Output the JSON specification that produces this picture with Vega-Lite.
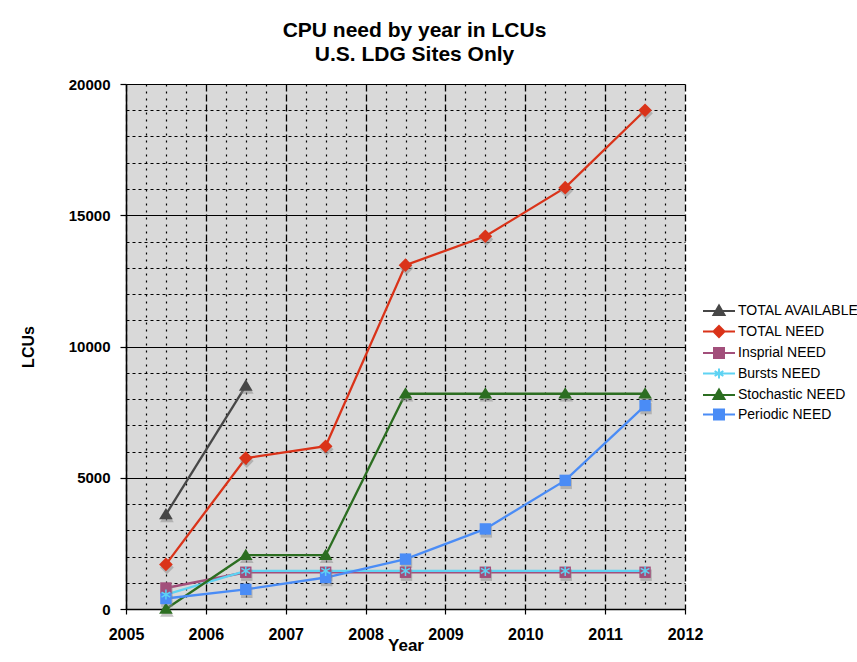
{
  "$schema": "https://vega.github.io/schema/vega-lite/v6.json",
  "width": 559,
  "height": 525,
  "autosize": {"type": "none"},
  "padding": {"left": 126, "top": 84, "right": 172, "bottom": 53},
  "background": "white",
  "config": {
    "view": {"fill": "#d9d9d9", "stroke": null},
    "font": "Liberation Sans",
    "legend": {
      "orient": "none",
      "legendX": 586,
      "legendY": 220,
      "padding": 0,
      "labelFont": "Liberation Sans",
      "labelFontSize": 14,
      "labelColor": "black",
      "labelOffset": 12,
      "rowPadding": 2.5,
      "symbolSize": 100
    }
  },
  "title": {
    "text": ["CPU need by year in LCUs", "U.S. LDG Sites Only"],
    "fontSize": 21,
    "fontWeight": "bold",
    "font": "Liberation Sans",
    "color": "black",
    "anchor": "middle",
    "dx": 9,
    "offset": 12,
    "lineHeight": 24
  },
  "data": {
    "values": [
      {"series": "TOTAL AVAILABLE", "year": 2005.5, "lcu": 3600},
      {"series": "TOTAL AVAILABLE", "year": 2006.5, "lcu": 8500},
      {"series": "TOTAL NEED", "year": 2005.5, "lcu": 1700},
      {"series": "TOTAL NEED", "year": 2006.5, "lcu": 5750},
      {"series": "TOTAL NEED", "year": 2007.5, "lcu": 6200},
      {"series": "TOTAL NEED", "year": 2008.5, "lcu": 13100},
      {"series": "TOTAL NEED", "year": 2009.5, "lcu": 14200},
      {"series": "TOTAL NEED", "year": 2010.5, "lcu": 16050},
      {"series": "TOTAL NEED", "year": 2011.5, "lcu": 19000},
      {"series": "Insprial NEED", "year": 2005.5, "lcu": 800},
      {"series": "Insprial NEED", "year": 2006.5, "lcu": 1400},
      {"series": "Insprial NEED", "year": 2007.5, "lcu": 1400},
      {"series": "Insprial NEED", "year": 2008.5, "lcu": 1400},
      {"series": "Insprial NEED", "year": 2009.5, "lcu": 1400},
      {"series": "Insprial NEED", "year": 2010.5, "lcu": 1400},
      {"series": "Insprial NEED", "year": 2011.5, "lcu": 1400},
      {"series": "Bursts NEED", "year": 2005.5, "lcu": 550},
      {"series": "Bursts NEED", "year": 2006.5, "lcu": 1450},
      {"series": "Bursts NEED", "year": 2007.5, "lcu": 1450},
      {"series": "Bursts NEED", "year": 2008.5, "lcu": 1450},
      {"series": "Bursts NEED", "year": 2009.5, "lcu": 1450},
      {"series": "Bursts NEED", "year": 2010.5, "lcu": 1450},
      {"series": "Bursts NEED", "year": 2011.5, "lcu": 1450},
      {"series": "Stochastic NEED", "year": 2005.5, "lcu": 0},
      {"series": "Stochastic NEED", "year": 2006.5, "lcu": 2050},
      {"series": "Stochastic NEED", "year": 2007.5, "lcu": 2050},
      {"series": "Stochastic NEED", "year": 2008.5, "lcu": 8200},
      {"series": "Stochastic NEED", "year": 2009.5, "lcu": 8200},
      {"series": "Stochastic NEED", "year": 2010.5, "lcu": 8200},
      {"series": "Stochastic NEED", "year": 2011.5, "lcu": 8200},
      {"series": "Periodic NEED", "year": 2005.5, "lcu": 400},
      {"series": "Periodic NEED", "year": 2006.5, "lcu": 750},
      {"series": "Periodic NEED", "year": 2007.5, "lcu": 1200},
      {"series": "Periodic NEED", "year": 2008.5, "lcu": 1900},
      {"series": "Periodic NEED", "year": 2009.5, "lcu": 3050},
      {"series": "Periodic NEED", "year": 2010.5, "lcu": 4900},
      {"series": "Periodic NEED", "year": 2011.5, "lcu": 7750}
    ]
  },
  "layer": [
    {
      "mark": {"type": "point", "opacity": 0},
      "encoding": {
        "x": {
          "field": "year", "type": "quantitative",
          "scale": {"domain": [2005, 2012], "nice": false, "zero": false},
          "axis": {
            "orient": "bottom",
            "values": [2005.25, 2005.5, 2005.75, 2006.25, 2006.5, 2006.75, 2007.25, 2007.5, 2007.75, 2008.25, 2008.5, 2008.75, 2009.25, 2009.5, 2009.75, 2010.25, 2010.5, 2010.75, 2011.25, 2011.5, 2011.75],
            "grid": true, "gridColor": "black", "gridDash": [2, 5], "gridWidth": 1.2,
            "labels": false, "ticks": false, "domain": false, "title": null
          }
        },
        "y": {
          "field": "lcu", "type": "quantitative",
          "scale": {"domain": [0, 20000], "nice": false},
          "axis": {
            "orient": "left",
            "values": [1000, 2000, 3000, 4000, 6000, 7000, 8000, 9000, 11000, 12000, 13000, 14000, 16000, 17000, 18000, 19000],
            "grid": true, "gridColor": "black", "gridDash": [3, 3], "gridWidth": 1.2,
            "labels": false, "ticks": false, "domain": false, "title": null
          }
        }
      }
    },
    {
      "mark": {"type": "point", "opacity": 0},
      "encoding": {
        "x": {
          "field": "year", "type": "quantitative",
          "axis": {
            "orient": "bottom",
            "values": [2005, 2006, 2007, 2008, 2009, 2010, 2011, 2012],
            "format": "d",
            "labelFlush": false,
            "grid": true, "gridColor": "black", "gridDash": [7, 3], "gridWidth": 1.3,
            "domain": true, "domainColor": "black", "domainWidth": 1.5,
            "ticks": true, "tickColor": "black", "tickSize": 5, "tickWidth": 1.2,
            "labelFont": "Liberation Sans", "labelFontSize": 16, "labelFontWeight": "bold", "labelColor": "black", "labelPadding": 12,
            "title": "Year", "titleFont": "Liberation Sans", "titleFontSize": 17, "titleFontWeight": "bold", "titleColor": "black", "titlePadding": -5
          }
        },
        "y": {
          "field": "lcu", "type": "quantitative",
          "axis": {
            "orient": "left",
            "values": [0, 5000, 10000, 15000, 20000],
            "format": "d",
            "labelFlush": false,
            "grid": true, "gridColor": "black", "gridWidth": 1.2,
            "domain": true, "domainColor": "black", "domainWidth": 1.5,
            "ticks": true, "tickColor": "black", "tickSize": 6, "tickWidth": 1.2,
            "labelFont": "Liberation Sans", "labelFontSize": 15, "labelFontWeight": "bold", "labelColor": "black", "labelPadding": 10,
            "title": "LCUs", "titleFont": "Liberation Sans", "titleFontSize": 16, "titleFontWeight": "bold", "titleColor": "black", "titlePadding": 32
          }
        }
      }
    },
    {
      "mark": {"type": "line", "strokeWidth": 2.3},
      "encoding": {
        "x": {"field": "year", "type": "quantitative", "axis": null},
        "y": {"field": "lcu", "type": "quantitative", "axis": null},
        "color": {
          "field": "series", "type": "nominal",
          "scale": {
            "domain": ["TOTAL AVAILABLE", "TOTAL NEED", "Insprial NEED", "Bursts NEED", "Stochastic NEED", "Periodic NEED"],
            "range": ["#474747", "#da3319", "#a24f7b", "#5fd3f3", "#2c6e21", "#4a8cf6"]
          },
          "legend": {
            "title": null,
            "encode": {"symbols": {"update": {
              "shape": {"signal": "datum.value === 'TOTAL NEED' ? 'M-3.2,0H3.2M0,-1.1L1.1,0L0,1.1L-1.1,0Z' : (datum.value === 'Insprial NEED' || datum.value === 'Periodic NEED') ? 'M-3.2,0H3.2M-1,-1H1V1H-1Z' : datum.value === 'Bursts NEED' ? 'M-3.2,0H3.2M0,-1V1M-0.87,-0.5L0.87,0.5M-0.87,0.5L0.87,-0.5' : 'M-3.2,0H3.2M0,-1.1L1.1,0.8L-1.1,0.8Z'"},
              "stroke": {"scale": "color", "field": "value"},
              "fill": {"scale": "color", "field": "value"},
              "strokeWidth": {"value": 2},
              "opacity": {"value": 1},
              "size": {"value": 100}
            }}}
          }
        }
      }
    },
    {
      "transform": [{"filter": "datum.series === 'TOTAL AVAILABLE' || datum.series === 'Stochastic NEED'"}],
      "mark": {"type": "point", "filled": true, "size": 130, "opacity": 0.5, "color": "#8a8a8a", "xOffset": 1, "yOffset": 3, "shape": "M0,-1.15L1.2,0.85L-1.2,0.85Z"},
      "encoding": {
        "x": {"field": "year", "type": "quantitative", "axis": null},
        "y": {"field": "lcu", "type": "quantitative", "axis": null}
      }
    },
    {
      "transform": [{"filter": "datum.series === 'TOTAL NEED'"}],
      "mark": {"type": "point", "filled": true, "size": 130, "opacity": 0.5, "color": "#8a8a8a", "xOffset": 1, "yOffset": 3, "shape": "M0,-1.2L1.2,0L0,1.2L-1.2,0Z"},
      "encoding": {
        "x": {"field": "year", "type": "quantitative", "axis": null},
        "y": {"field": "lcu", "type": "quantitative", "axis": null}
      }
    },
    {
      "transform": [{"filter": "datum.series === 'Insprial NEED' || datum.series === 'Periodic NEED'"}],
      "mark": {"type": "point", "filled": true, "size": 130, "opacity": 0.5, "color": "#8a8a8a", "xOffset": 1, "yOffset": 3, "shape": "square"},
      "encoding": {
        "x": {"field": "year", "type": "quantitative", "axis": null},
        "y": {"field": "lcu", "type": "quantitative", "axis": null}
      }
    },
    {
      "transform": [{"filter": "datum.series === 'TOTAL AVAILABLE' || datum.series === 'Stochastic NEED'"}],
      "mark": {"type": "point", "filled": true, "size": 130, "opacity": 1, "shape": "M0,-1.15L1.2,0.85L-1.2,0.85Z"},
      "encoding": {
        "x": {"field": "year", "type": "quantitative", "axis": null},
        "y": {"field": "lcu", "type": "quantitative", "axis": null},
        "color": {
          "field": "series", "type": "nominal",
          "legend": {
            "title": null,
            "encode": {"symbols": {"update": {
              "shape": {"signal": "datum.value === 'TOTAL NEED' ? 'M-3.2,0H3.2M0,-1.1L1.1,0L0,1.1L-1.1,0Z' : (datum.value === 'Insprial NEED' || datum.value === 'Periodic NEED') ? 'M-3.2,0H3.2M-1,-1H1V1H-1Z' : datum.value === 'Bursts NEED' ? 'M-3.2,0H3.2M0,-1V1M-0.87,-0.5L0.87,0.5M-0.87,0.5L0.87,-0.5' : 'M-3.2,0H3.2M0,-1.1L1.1,0.8L-1.1,0.8Z'"},
              "stroke": {"scale": "color", "field": "value"},
              "fill": {"scale": "color", "field": "value"},
              "strokeWidth": {"value": 2},
              "opacity": {"value": 1},
              "size": {"value": 100}
            }}}
          }
        }
      }
    },
    {
      "transform": [{"filter": "datum.series === 'TOTAL NEED'"}],
      "mark": {"type": "point", "filled": true, "size": 130, "opacity": 1, "shape": "M0,-1.2L1.2,0L0,1.2L-1.2,0Z"},
      "encoding": {
        "x": {"field": "year", "type": "quantitative", "axis": null},
        "y": {"field": "lcu", "type": "quantitative", "axis": null},
        "color": {
          "field": "series", "type": "nominal",
          "legend": {
            "title": null,
            "encode": {"symbols": {"update": {
              "shape": {"signal": "datum.value === 'TOTAL NEED' ? 'M-3.2,0H3.2M0,-1.1L1.1,0L0,1.1L-1.1,0Z' : (datum.value === 'Insprial NEED' || datum.value === 'Periodic NEED') ? 'M-3.2,0H3.2M-1,-1H1V1H-1Z' : datum.value === 'Bursts NEED' ? 'M-3.2,0H3.2M0,-1V1M-0.87,-0.5L0.87,0.5M-0.87,0.5L0.87,-0.5' : 'M-3.2,0H3.2M0,-1.1L1.1,0.8L-1.1,0.8Z'"},
              "stroke": {"scale": "color", "field": "value"},
              "fill": {"scale": "color", "field": "value"},
              "strokeWidth": {"value": 2},
              "opacity": {"value": 1},
              "size": {"value": 100}
            }}}
          }
        }
      }
    },
    {
      "transform": [{"filter": "datum.series === 'Insprial NEED' || datum.series === 'Periodic NEED'"}],
      "mark": {"type": "point", "filled": true, "size": 130, "opacity": 1, "shape": "square"},
      "encoding": {
        "x": {"field": "year", "type": "quantitative", "axis": null},
        "y": {"field": "lcu", "type": "quantitative", "axis": null},
        "color": {
          "field": "series", "type": "nominal",
          "legend": {
            "title": null,
            "encode": {"symbols": {"update": {
              "shape": {"signal": "datum.value === 'TOTAL NEED' ? 'M-3.2,0H3.2M0,-1.1L1.1,0L0,1.1L-1.1,0Z' : (datum.value === 'Insprial NEED' || datum.value === 'Periodic NEED') ? 'M-3.2,0H3.2M-1,-1H1V1H-1Z' : datum.value === 'Bursts NEED' ? 'M-3.2,0H3.2M0,-1V1M-0.87,-0.5L0.87,0.5M-0.87,0.5L0.87,-0.5' : 'M-3.2,0H3.2M0,-1.1L1.1,0.8L-1.1,0.8Z'"},
              "stroke": {"scale": "color", "field": "value"},
              "fill": {"scale": "color", "field": "value"},
              "strokeWidth": {"value": 2},
              "opacity": {"value": 1},
              "size": {"value": 100}
            }}}
          }
        }
      }
    },
    {
      "transform": [{"filter": "datum.series === 'Bursts NEED'"}],
      "mark": {"type": "point", "filled": false, "size": 100, "opacity": 1, "strokeWidth": 1.5, "shape": "M0,-1V1M-0.87,-0.5L0.87,0.5M-0.87,0.5L0.87,-0.5"},
      "encoding": {
        "x": {"field": "year", "type": "quantitative", "axis": null},
        "y": {"field": "lcu", "type": "quantitative", "axis": null},
        "color": {
          "field": "series", "type": "nominal",
          "legend": {
            "title": null,
            "encode": {"symbols": {"update": {
              "shape": {"signal": "datum.value === 'TOTAL NEED' ? 'M-3.2,0H3.2M0,-1.1L1.1,0L0,1.1L-1.1,0Z' : (datum.value === 'Insprial NEED' || datum.value === 'Periodic NEED') ? 'M-3.2,0H3.2M-1,-1H1V1H-1Z' : datum.value === 'Bursts NEED' ? 'M-3.2,0H3.2M0,-1V1M-0.87,-0.5L0.87,0.5M-0.87,0.5L0.87,-0.5' : 'M-3.2,0H3.2M0,-1.1L1.1,0.8L-1.1,0.8Z'"},
              "stroke": {"scale": "color", "field": "value"},
              "fill": {"scale": "color", "field": "value"},
              "strokeWidth": {"value": 2},
              "opacity": {"value": 1},
              "size": {"value": 100}
            }}}
          }
        }
      }
    }
  ],
  "resolve": {"axis": {"x": "independent", "y": "independent"}}
}
